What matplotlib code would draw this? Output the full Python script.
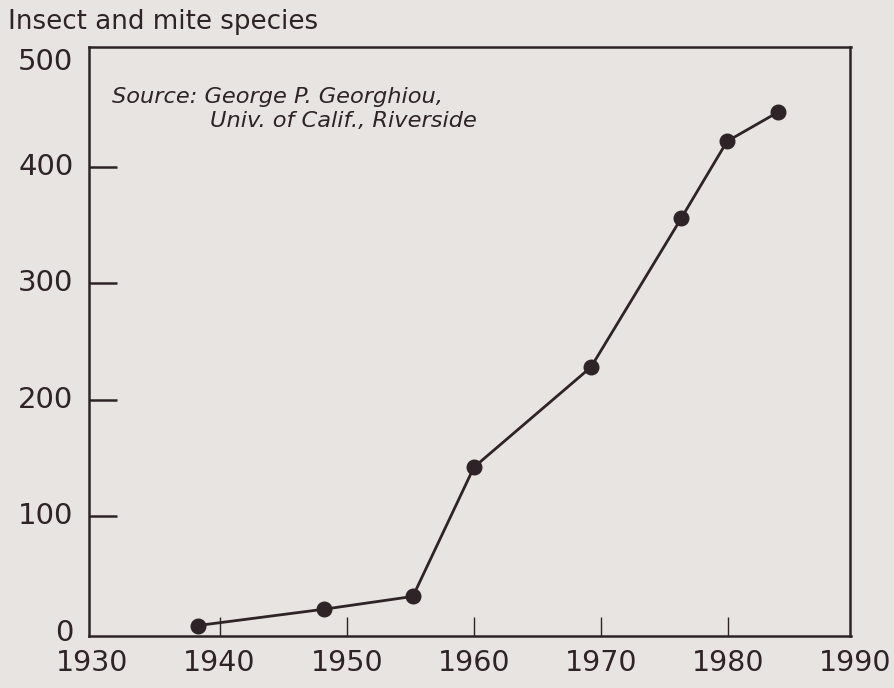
import matplotlib
matplotlib.use("Agg")
import matplotlib.pyplot as plt

# Resistant insect and mite species by year
years = [1938.3, 1948.2, 1955.2, 1960.0, 1969.2, 1976.3, 1979.9, 1983.9]
species = [6, 20, 31, 142, 228, 356, 422, 447]

x_ticks = [1940, 1950, 1960, 1970, 1980]
y_ticks = [100, 200, 300, 400]
x_label_years = [1930, 1940, 1950, 1960, 1970, 1980, 1990]
y_label_values = [0, 100, 200, 300, 400, 500]

paper = '#e8e4e1'
ink = '#2e2327'

plt.rcParams['font.family'] = ['DejaVu Sans']

W, H = 895, 688
fig = plt.figure(figsize=(W / 100, H / 100), dpi=100)
fig.patch.set_facecolor(paper)

# axes box in pixels: left, bottom(from top), width, height
bx, by, bw, bh = 88.5, 636, 762, 589
ax = fig.add_axes([bx / W, 1 - by / H, bw / W, bh / H])
ax.set_facecolor(paper)

ax.plot(years, species, color=ink, lw=2.0, marker='o', ms=10.5,
        markerfacecolor=ink, markeredgecolor=ink, clip_on=False, zorder=3)

ax.set_xlim(1929.7, 1989.6)
ax.set_ylim(-3, 503)

for s in ax.spines.values():
    s.set_color(ink)
    s.set_linewidth(1.8)

ax.set_xticks(x_ticks)
ax.set_yticks(y_ticks)
ax.tick_params(axis='x', direction='in', length=14, width=1.0, color=ink,
               labelbottom=False)
ax.tick_params(axis='y', direction='in', length=20, width=1.8, color=ink,
               labelleft=False)

# tick labels placed by hand, like the drawing
for yr in x_label_years:
    ax.annotate(str(yr), xy=(yr, 0), xycoords=('data', 'axes fraction'),
                xytext=(0, -27), textcoords='offset pixels',
                ha='center', va='center', fontsize=20.5, color=ink,
                annotation_clip=False)
for v in y_label_values:
    dy = -12 if v == 500 else 0
    ax.annotate(str(v), xy=(0, v), xycoords=('axes fraction', 'data'),
                xytext=(-15, dy), textcoords='offset pixels',
                ha='right', va='center', fontsize=21, color=ink,
                annotation_clip=False)

fig.text(8 / W, 1 - 22 / H, 'Insect and mite species', ha='left',
         va='center', fontsize=18.8, color=ink)

fig.text(112 / W, 1 - 97 / H, 'Source: George P. Georghiou,', ha='left',
         va='center', fontsize=16.2, style='italic', color=ink)
fig.text(210 / W, 1 - 121 / H, 'Univ. of Calif., Riverside', ha='left',
         va='center', fontsize=16.2, style='italic', color=ink)

fig.savefig('out.png', dpi=100, facecolor=paper)
